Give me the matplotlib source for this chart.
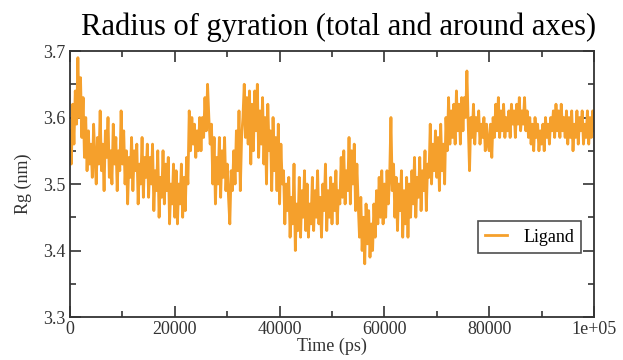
import numpy as np
import matplotlib
matplotlib.use('Agg')
import matplotlib.pyplot as plt
from matplotlib.ticker import MultipleLocator

# Rg (nm), one value every 250 ps (20 per 5000 ps row)
rg = [
    3.58, 3.53, 3.62, 3.56, 3.64, 3.59, 3.69, 3.60, 3.66, 3.57, 3.63, 3.54, 3.60, 3.52, 3.58, 3.53, 3.56, 3.51, 3.59, 3.54,
    3.50, 3.57, 3.53, 3.61, 3.52, 3.56, 3.49, 3.58, 3.54, 3.60, 3.51, 3.55, 3.50, 3.59, 3.53, 3.57, 3.49, 3.55, 3.52, 3.61,
    3.53, 3.58, 3.50, 3.55, 3.47, 3.54, 3.51, 3.57, 3.49, 3.55, 3.52, 3.56, 3.47, 3.53, 3.50, 3.57, 3.48, 3.54, 3.51, 3.56,
    3.48, 3.54, 3.50, 3.56, 3.46, 3.52, 3.49, 3.55, 3.45, 3.51, 3.48, 3.55, 3.47, 3.53, 3.49, 3.54, 3.44, 3.50, 3.47, 3.53,
    3.45, 3.52, 3.44, 3.50, 3.47, 3.53, 3.45, 3.51, 3.46, 3.54, 3.50, 3.61, 3.55, 3.60, 3.56, 3.59, 3.54, 3.58, 3.55, 3.60,
    3.55, 3.60, 3.57, 3.63, 3.58, 3.65, 3.60, 3.56, 3.59, 3.50, 3.57, 3.47, 3.54, 3.50, 3.57, 3.48, 3.55, 3.51, 3.57, 3.49,
    3.53, 3.48, 3.44, 3.52, 3.49, 3.55, 3.50, 3.58, 3.52, 3.61, 3.49, 3.57, 3.60, 3.65, 3.57, 3.63, 3.56, 3.64, 3.53, 3.62,
    3.55, 3.64, 3.58, 3.65, 3.54, 3.61, 3.56, 3.63, 3.53, 3.60, 3.50, 3.62, 3.55, 3.58, 3.49, 3.60, 3.52, 3.57, 3.49, 3.59,
    3.47, 3.56, 3.50, 3.52, 3.44, 3.50, 3.46, 3.51, 3.42, 3.48, 3.44, 3.53, 3.40, 3.47, 3.43, 3.51, 3.42, 3.49, 3.45, 3.52,
    3.43, 3.50, 3.42, 3.47, 3.44, 3.51, 3.43, 3.49, 3.45, 3.52, 3.44, 3.48, 3.42, 3.50, 3.46, 3.53, 3.43, 3.49, 3.45, 3.51,
    3.44, 3.50, 3.46, 3.52, 3.44, 3.49, 3.47, 3.54, 3.48, 3.55, 3.47, 3.52, 3.49, 3.57, 3.47, 3.55, 3.50, 3.56, 3.46, 3.53,
    3.47, 3.42, 3.48, 3.40, 3.45, 3.38, 3.47, 3.41, 3.46, 3.39, 3.44, 3.40, 3.47, 3.42, 3.49, 3.44, 3.51, 3.45, 3.52, 3.44,
    3.50, 3.45, 3.52, 3.47, 3.51, 3.60, 3.49, 3.53, 3.45, 3.51, 3.43, 3.50, 3.46, 3.52, 3.42, 3.49, 3.44, 3.51, 3.42, 3.50,
    3.45, 3.52, 3.47, 3.54, 3.45, 3.51, 3.48, 3.54, 3.46, 3.52, 3.49, 3.55, 3.46, 3.53, 3.51, 3.59, 3.50, 3.56, 3.52, 3.58,
    3.51, 3.57, 3.49, 3.59, 3.52, 3.56, 3.50, 3.60, 3.55, 3.63, 3.56, 3.61, 3.57, 3.62, 3.56, 3.64, 3.58, 3.62, 3.56, 3.63,
    3.58, 3.63, 3.60, 3.67, 3.59, 3.52, 3.60, 3.57, 3.62, 3.56, 3.60, 3.58, 3.61, 3.56, 3.59, 3.57, 3.60, 3.55, 3.59, 3.56,
    3.55, 3.59, 3.54, 3.60, 3.57, 3.62, 3.58, 3.63, 3.57, 3.61, 3.58, 3.62, 3.57, 3.60, 3.58, 3.61, 3.57, 3.62, 3.59, 3.61,
    3.57, 3.62, 3.59, 3.63, 3.58, 3.61, 3.59, 3.63, 3.58, 3.61, 3.57, 3.60, 3.56, 3.59, 3.55, 3.60, 3.57, 3.59, 3.55, 3.58,
    3.56, 3.59, 3.55, 3.60, 3.57, 3.59, 3.56, 3.60, 3.58, 3.61, 3.57, 3.62, 3.58, 3.61, 3.57, 3.62, 3.58, 3.60, 3.57, 3.61,
    3.56, 3.60, 3.57, 3.61, 3.55, 3.59, 3.57, 3.61, 3.56, 3.60, 3.58, 3.61, 3.56, 3.59, 3.57, 3.61, 3.56, 3.60, 3.57, 3.61,
    3.58,
]
step_ps = 250
time_ps = np.arange(len(rg)) * step_ps

xticks = [0, 20000, 40000, 60000, 80000, 100000]
xlabels = ['0', '20000', '40000', '60000', '80000', '1e+05']
yticks = [3.3, 3.4, 3.5, 3.6, 3.7]

plt.rcParams['font.family'] = ['Liberation Serif', 'DejaVu Serif']

fig = plt.figure(figsize=(6.23, 3.6), dpi=100)
ax = fig.add_axes([0.1124, 0.1194, 0.841, 0.7389])

ax.plot(time_ps, rg, color='#f5a02c', lw=2.0, label='Ligand')

ax.set_xlim(0, 100000)
ax.set_ylim(3.3, 3.7)
ax.set_xticks(xticks)
ax.set_xticklabels(xlabels)
ax.set_yticks(yticks)
ax.set_yticklabels(['%.1f' % v for v in yticks])
ax.xaxis.set_minor_locator(MultipleLocator(10000))
ax.yaxis.set_minor_locator(MultipleLocator(0.05))

ax.tick_params(which='both', direction='in', top=True, right=True,
               color='#333333', labelcolor='#333333', width=1.2,
               labelsize=13, pad=3)
ax.tick_params(which='major', length=8)
ax.tick_params(which='minor', length=4)
for s in ax.spines.values():
    s.set_linewidth(1.3)
    s.set_color('#333333')

ax.set_xlabel('Time (ps)', fontsize=13, labelpad=0, color='#333333')
ax.set_ylabel('Rg (nm)', fontsize=13, labelpad=8, color='#333333')
fig.text(0.544, 0.925, 'Radius of gyration (total and around axes)',
         ha='center', va='center', fontsize=22)

leg = ax.legend(loc='center', bbox_to_anchor=(0.877, 0.30), fontsize=13,
                frameon=True, fancybox=False, handlelength=1.2,
                borderpad=0.4, handletextpad=0.9, borderaxespad=0)
leg.get_frame().set_edgecolor('#222222')
leg.get_frame().set_linewidth(1.2)

fig.savefig('out.png', dpi=100)
